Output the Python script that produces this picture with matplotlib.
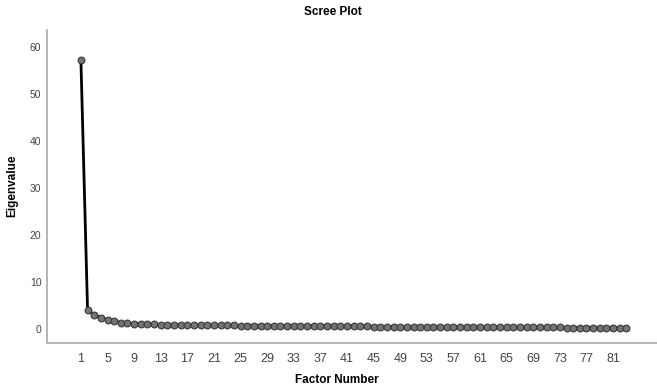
import matplotlib
matplotlib.use('Agg')
import matplotlib.pyplot as plt

plt.rcParams['font.family'] = ['Liberation Sans', 'DejaVu Sans']

# factor numbers and eigenvalues
factors = list(range(1, 84))
eigenvalues = [57.3, 4.0, 3.0, 2.4, 1.9, 1.6, 1.35, 1.2, 1.1, 1.05,
               1.0, 0.96, 0.93, 0.9, 0.88, 0.86, 0.84, 0.82, 0.8, 0.78,
               0.77, 0.75, 0.74, 0.73, 0.71, 0.7, 0.69, 0.68, 0.67, 0.66,
               0.65, 0.64, 0.63, 0.62, 0.61, 0.6, 0.59, 0.58, 0.57, 0.56,
               0.55, 0.54, 0.53, 0.52, 0.51, 0.5, 0.5, 0.49, 0.48, 0.47,
               0.46, 0.45, 0.44, 0.44, 0.43, 0.42, 0.41, 0.4, 0.4, 0.39,
               0.38, 0.37, 0.36, 0.36, 0.35, 0.34, 0.33, 0.33, 0.32, 0.31,
               0.31, 0.3, 0.3, 0.29, 0.29, 0.28, 0.28, 0.27, 0.27, 0.26,
               0.26, 0.25, 0.25]
xticks = list(range(1, 82, 4))
yticks = [0, 10, 20, 30, 40, 50, 60]

fig = plt.figure(figsize=(6.57, 3.87), dpi=100)
ax = fig.add_axes([0.0715, 0.1137, 0.9285, 0.8083])

ax.plot(factors, eigenvalues, color='black', lw=2, marker='o', markersize=4.9,
        markerfacecolor='#737373', markeredgecolor='#3a3a3a', markeredgewidth=0.8)

ax.set_xlim(-4.1, 87.6)
ax.set_ylim(-3, 63.6)
ax.set_xticks(xticks)
ax.set_yticks(yticks)
ax.tick_params(axis='x', length=0, labelsize=9, colors='#444444', pad=7)
ax.tick_params(axis='y', length=0, labelsize=7.5, colors='#444444', pad=4)

for s in ['top', 'right']:
    ax.spines[s].set_visible(False)
for s in ['left', 'bottom']:
    ax.spines[s].set_color('#b0b0b0')
    ax.spines[s].set_linewidth(1.3)

fig.text(0.507, 0.968, 'Scree Plot', fontsize=8.5, fontweight='bold',
         ha='center', va='center')
fig.text(0.513, 0.018, 'Factor Number', fontsize=8.5, fontweight='bold',
         ha='center', va='center')
fig.text(0.019, 0.52, 'Eigenvalue', fontsize=8.5, fontweight='bold',
         ha='center', va='center', rotation=90)

fig.savefig('out.png', dpi=100)
